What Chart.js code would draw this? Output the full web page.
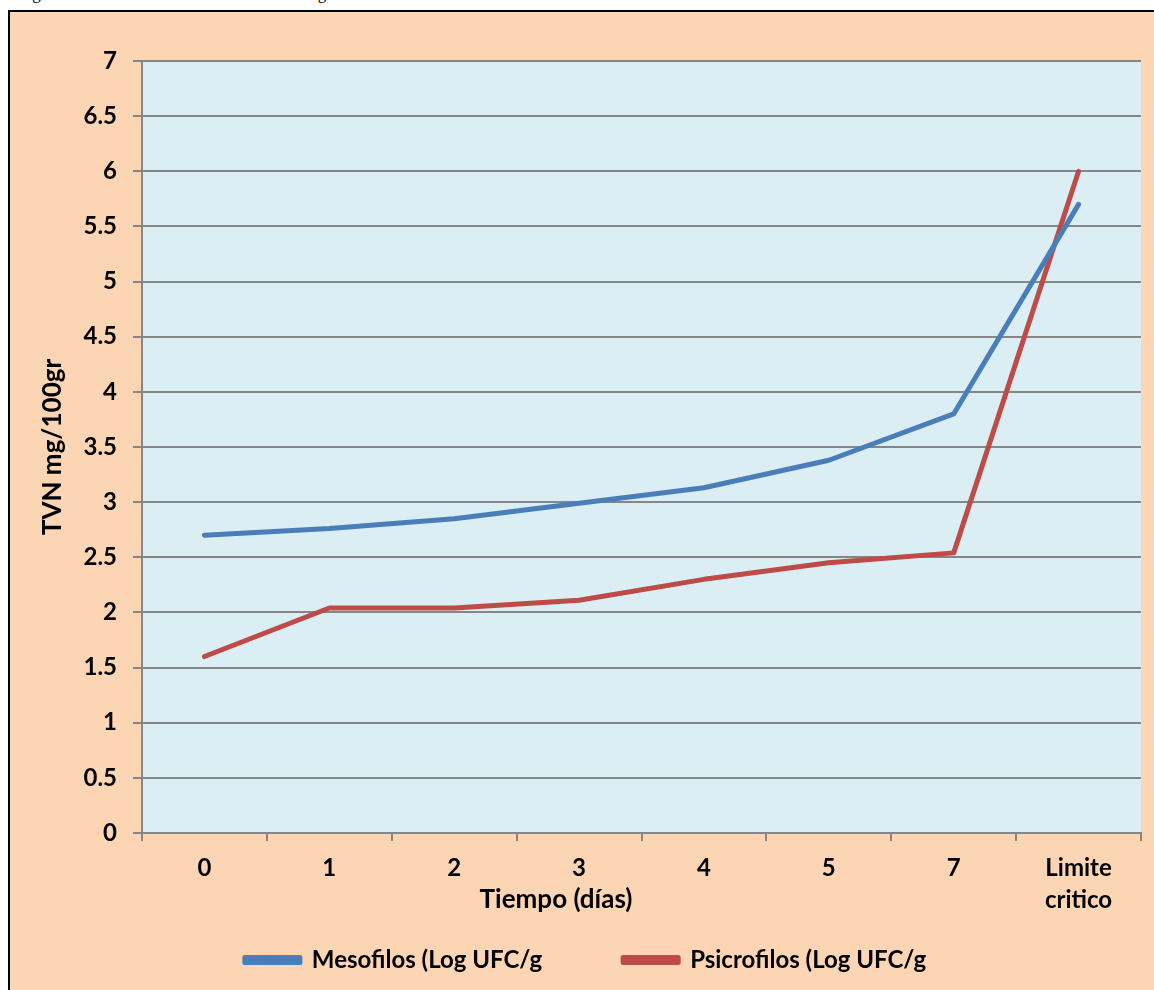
<!DOCTYPE html>
<html>
<head>
<meta charset="utf-8">
<script src="https://cdn.jsdelivr.net/npm/chart.js@4.4.1/dist/chart.umd.min.js"></script>
<style>
    body { margin: 0; background: #fff; width: 1154px; height: 990px; overflow: hidden; position: relative; }
    #caption { position: absolute; left: 18px; top: -16px; font-family: "Liberation Serif", serif; font-size: 17px; color: #000; white-space: nowrap; }
    #frame { position: absolute; left: 8px; top: 10px; width: 1160px; height: 990px; background: #FCD5B4; border-left: 2px solid #000; border-top: 2px solid #000; }
    #wrap { position: absolute; left: 0; top: 0; width: 1154px; height: 990px; }
</style>
</head>
<body>
<div id="caption">Figura 4: Resultados del análisis microbiológico</div>
<div id="frame"></div>
<div id="wrap"><canvas id="chart"></canvas></div>
<script>
const dias = ['0', '1', '2', '3', '4', '5', '7', ['Limite', 'critico']];
const mesofilos = [2.70, 2.76, 2.85, 2.99, 3.13, 3.38, 3.80, 5.70];
const psicrofilos = [1.60, 2.04, 2.04, 2.11, 2.30, 2.45, 2.54, 6.00];

const fontFam = 'Lato, "Open Sans", sans-serif';

// light blue plot area + x axis title
const plotBg = {
    id: 'plotBg',
    beforeDraw(chart) {
        const a = chart.chartArea;
        const ctx = chart.ctx;
        ctx.save();
        ctx.fillStyle = '#DBEEF4';
        ctx.fillRect(a.left, a.top, a.right - a.left, a.bottom - a.top);
        ctx.restore();
    },
    afterDraw(chart) {
        const ctx = chart.ctx;
        ctx.save();
        ctx.font = 'bold 26px ' + fontFam;
        ctx.fillStyle = '#000';
        ctx.textAlign = 'center';
        ctx.textBaseline = 'middle';
        ctx.fillText('Tiempo (días)', 556, 900);
        ctx.restore();
    }
};

new Chart(document.getElementById('chart'), {
    type: 'line',
    data: {
        labels: dias,
        datasets: [{
            label: 'Mesofilos (Log UFC/g',
            data: mesofilos,
            borderColor: '#4A7EBB',
            backgroundColor: '#4A7EBB',
            borderWidth: 5,
            pointRadius: 0,
            borderCapStyle: 'round',
            borderJoinStyle: 'round',
            tension: 0
        }, {
            label: 'Psicrofilos (Log UFC/g',
            data: psicrofilos,
            borderColor: '#BE4B48',
            backgroundColor: '#BE4B48',
            borderWidth: 5,
            pointRadius: 0,
            borderCapStyle: 'round',
            borderJoinStyle: 'round',
            tension: 0
        }]
    },
    options: {
        responsive: true,
        maintainAspectRatio: false,
        animation: false,
        layout: { padding: { left: 30, top: 61, right: 13, bottom: 8 } },
        plugins: {
            legend: {
                position: 'bottom',
                labels: {
                    font: { family: fontFam, size: 24, weight: 'bold' },
                    color: '#000',
                    boxWidth: 55,
                    boxHeight: 5,
                    padding: 27,
                    // wider gap after the first entry, like the original
                    generateLabels: (chart) => {
                        const items = Chart.defaults.plugins.legend.labels.generateLabels(chart);
                        items[0].text += '\u2003\u2003\u2003';
                        return items;
                    }
                }
            },
            tooltip: { enabled: false }
        },
        scales: {
            x: {
                offset: true,
                afterFit: (s) => { s.height = 88; },
                grid: { offset: true, drawOnChartArea: false, drawTicks: true, tickLength: 8, color: '#868686', lineWidth: 2 },
                border: { color: '#868686', width: 2 },
                ticks: {
                    color: '#000',
                    padding: 11,
                    maxRotation: 0,
                    font: { family: fontFam, size: 24, weight: 'bold', lineHeight: 1.33 }
                }
            },
            y: {
                min: 0,
                max: 7,
                afterFit: (s) => { s.width = 112; },
                grid: { color: '#868686', lineWidth: 2, tickLength: 9 },
                border: { color: '#868686', width: 2 },
                ticks: {
                    stepSize: 0.5,
                    color: '#000',
                    padding: 16,
                    callback: (v) => v.toString(),
                    font: { family: fontFam, size: 24, weight: 'bold' }
                },
                title: {
                    display: true,
                    text: 'TVN mg/100gr',
                    color: '#000',
                    padding: { top: 7, bottom: 0 },
                    font: { family: fontFam, size: 26, weight: 'bold' }
                }
            }
        }
    },
    plugins: [plotBg]
});
</script>
</body>
</html>
